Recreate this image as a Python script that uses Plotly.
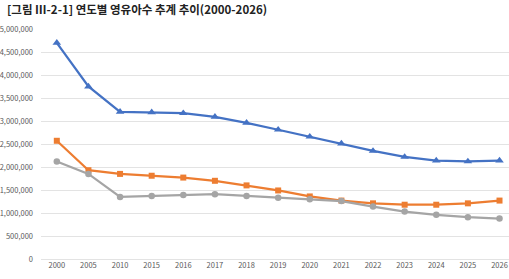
import plotly.graph_objects as go

years = ["2000", "2005", "2010", "2015", "2016", "2017", "2018", "2019",
         "2020", "2021", "2022", "2023", "2024", "2025", "2026"]
series_a = [4700000, 3750000, 3200000, 3190000, 3170000, 3090000, 2960000, 2810000,
            2660000, 2510000, 2350000, 2220000, 2140000, 2120000, 2140000]
series_b = [2570000, 1930000, 1850000, 1810000, 1770000, 1700000, 1600000, 1490000,
            1360000, 1270000, 1210000, 1180000, 1180000, 1210000, 1270000]
series_c = [2120000, 1850000, 1350000, 1370000, 1390000, 1410000, 1370000, 1330000,
            1300000, 1260000, 1140000, 1030000, 960000, 910000, 880000]
y_ticks = [0, 500000, 1000000, 1500000, 2000000, 2500000, 3000000, 3500000,
           4000000, 4500000, 5000000]
title_text = "[그림 Ⅲ-2-1] 연도별 영유아수 추계 추이(2000-2026)"

fig = go.Figure()
fig.add_trace(go.Scatter(x=years, y=series_a, mode="lines+markers",
                         line=dict(color="#4472C4", width=2.25),
                         marker=dict(symbol="triangle-up", size=7.5, color="#4472C4")))
fig.add_trace(go.Scatter(x=years, y=series_b, mode="lines+markers",
                         line=dict(color="#ED7D31", width=2.25),
                         marker=dict(symbol="square", size=6, color="#ED7D31")))
fig.add_trace(go.Scatter(x=years, y=series_c, mode="lines+markers",
                         line=dict(color="#A5A5A5", width=2.25),
                         marker=dict(symbol="circle", size=6.5, color="#A5A5A5")))

fig.update_layout(
    width=509, height=279,
    margin=dict(l=36.5, r=0, t=29.3, b=19.7),
    paper_bgcolor="white", plot_bgcolor="white",
    showlegend=False,
    font=dict(family="Noto Sans CJK KR, Noto Sans, sans-serif", size=7.5, color="#595959"),
    xaxis=dict(type="category", range=[-0.5, 14.3], showgrid=False, showline=False,
               ticks="", tickfont=dict(size=7.5, color="#595959"), fixedrange=True),
    yaxis=dict(range=[0, 5000000], tickvals=y_ticks,
               ticktext=[f"{v:,}" for v in y_ticks],
               showgrid=True, gridcolor="#E3E3E3", gridwidth=1,
               zeroline=True, zerolinecolor="#E3E3E3", zerolinewidth=1,
               showline=False, ticks="", ticklabelstandoff=7,
               tickfont=dict(size=7.5, color="#595959")),
    annotations=[dict(text=title_text, xref="paper", yref="paper", x=0, y=1,
                      xanchor="left", yanchor="middle", xshift=-36, yshift=20.5,
                      showarrow=False,
                      font=dict(family="Noto Sans CJK KR", size=11.5, color="#222222",
                                weight="bold"))],
)

fig.write_html("out.html")
